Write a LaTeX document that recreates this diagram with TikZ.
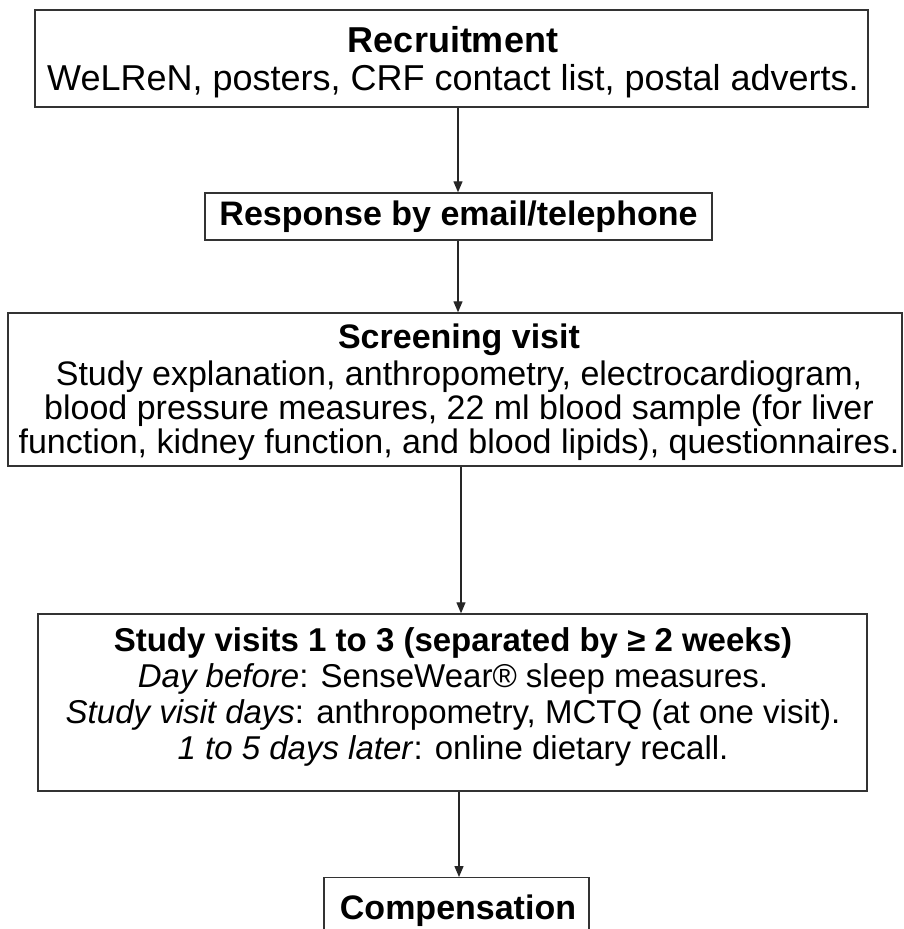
\documentclass[tikz,border=0pt]{standalone}
\usepackage{fontspec}
\setmainfont{Liberation Sans}
\usetikzlibrary{arrows.meta}
\begin{document}
\begin{tikzpicture}[x=1pt,y=-1pt,
  frame/.style={draw=black!80, line width=1.4pt, fill=white, inner sep=0pt},
  txt/.style={align=center, inner sep=0pt},
  arr/.style={draw=black!85, line width=1.3pt, -{Triangle[length=11pt,width=9pt]}}]
\useasboundingbox (0,0) rectangle (904,929);
\fill[white] (0,0) rectangle (904,929);
\node[frame, minimum width=833pt, minimum height=97pt] (r1) at (451.5,58.5) {};
\node[txt, font=\fontsize{36}{38}\selectfont] (t1) at (453,62)
  {\textbf{Recruitment}\\WeLReN, posters, CRF contact list, postal adverts.};
\node[frame, minimum width=507pt, minimum height=47pt] (r2) at (458.5,216.5) {};
\node[txt, font=\fontsize{34}{36}\selectfont] (t2) at (458.5,217)
  {\textbf{Response by email/telephone}};
\node[frame, minimum width=894pt, minimum height=153pt] (r3) at (455,389.5) {};
\node[txt, font=\fontsize{34}{34}\selectfont] (t3) at (459,392)
  {\textbf{Screening visit}\\[3pt]Study explanation, anthropometry, electrocardiogram,\\blood pressure measures, 22 ml blood sample (for liver\\function, kidney function, and blood lipids), questionnaires.};
\node[frame, minimum width=829pt, minimum height=177pt] (r4) at (452.5,702.5) {};
\node[txt, font=\fontsize{33}{36}\selectfont] (t4) at (453,697)
  {\textbf{Study visits 1 to 3 (separated by ≥ 2 weeks)}\\\textit{Day before}: SenseWear® sleep measures.\\\textit{Study visit days}: anthropometry, MCTQ (at one visit).\\\textit{1 to 5 days later}: online dietary recall.};
\node[frame, minimum width=265pt, minimum height=70pt, anchor=north] (r5) at (456.5,877) {};
\node[txt, font=\fontsize{34}{36}\selectfont] (t5) at (458,911)
  {\textbf{Compensation}};
\coordinate (c1) at (458,0);
\coordinate (c2) at (458,0);
\coordinate (c3) at (461,0);
\coordinate (c4) at (459,0);
\draw[arr] (r1.south -| c1) -- (r2.north -| c1);
\draw[arr] (r2.south -| c2) -- (r3.north -| c2);
\draw[arr] (r3.south -| c3) -- (r4.north -| c3);
\draw[arr] (r4.south -| c4) -- (r5.north -| c4);
\end{tikzpicture}
\end{document}
